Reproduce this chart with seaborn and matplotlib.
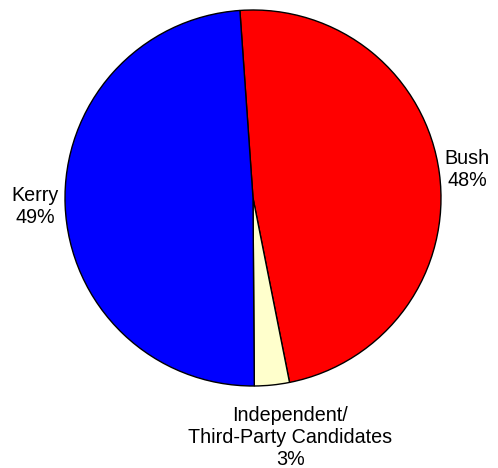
import numpy as np
import matplotlib
matplotlib.use("Agg")
import matplotlib.pyplot as plt
import seaborn as sns

# 2004 presidential vote share
candidates = ["Bush", "Independent/\nThird-Party Candidates", "Kerry"]
shares = [48, 3, 49]
slice_colors = ["#FF0000", "#FFFFCC", "#0000FF"]

sns.set_theme(style="white")
plt.rcParams["font.family"] = ["Liberation Sans", "DejaVu Sans"]

W, H = 498, 468
fig = plt.figure(figsize=(W / 100, H / 100), dpi=100)
ax = fig.add_axes([0, 0, 1, 1])

labels = [f"{c}\n{s}%" for c, s in zip(candidates, shares)]
wedges, texts = ax.pie(
    shares,
    labels=labels,
    colors=slice_colors,
    startangle=94,
    counterclock=False,
    center=(253, H - 198),
    radius=188,
    labeldistance=1.16,
    wedgeprops=dict(edgecolor="black", linewidth=1.0),
    textprops=dict(fontsize=14.2, color="black", linespacing=1.2),
)

# place every label centred on its wedge direction
label_dist = [1.15, 1.29, 1.16]
label_turn = [0.0, 3.0, 0.0]
for w, t, d, turn in zip(wedges, texts, label_dist, label_turn):
    ang = np.deg2rad((w.theta1 + w.theta2) / 2 + turn)
    cx, cy = w.center
    t.set_position((cx + d * w.r * np.cos(ang), cy + d * w.r * np.sin(ang)))
    t.set_ha("center")
    t.set_va("center")

ax.set_xlim(0, W)
ax.set_ylim(0, H)
ax.set_aspect("equal")
ax.axis("off")

fig.savefig("out.png", dpi=100)
